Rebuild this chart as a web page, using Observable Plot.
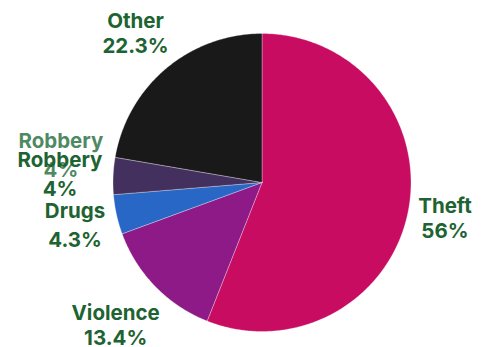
<!DOCTYPE html>
<html><head><meta charset="utf-8">
<script src="https://cdn.jsdelivr.net/npm/d3@7"></script>
<script src="https://cdn.jsdelivr.net/npm/@observablehq/plot@0.6"></script>
<style>body{margin:0;background:#fff;} #chart svg{display:block;}</style>
</head><body><div id="chart"></div>
<script>
// Data
const categories = ["Theft", "Violence", "Drugs", "Robbery", "Other"];
const shares = [56, 13.4, 4.3, 4, 22.3];
const valueLabels = ["56%", "13.4%", "4.3%", "4%", "22.3%"];
const colors = ["#c70c62", "#8d1a86", "#2867c5", "#44305e", "#191919"];

// Label nudges (data units, relative to mid-angle anchor)
const nudge = {
  Theft: [0, 0],
  Violence: [-0.087, -0.078],
  Drugs: [-0.034, -0.003],
  Robbery: [-0.107, 0.012],
  Other: [-0.043, 0.052]
};
const ghostNudge = [-0.101, 0.140];
const narrowSlices = ["Drugs", "Robbery"];

const arcs = d3.pie().sort(null).value(d => d)(shares);
const polys = [];
arcs.forEach((p, i) => {
  polys.push({cat: categories[i], x: 0, y: 0});
  const n = Math.max(2, Math.ceil((p.endAngle - p.startAngle) / (Math.PI / 360)));
  for (let k = 0; k <= n; k++) {
    const a = p.startAngle + (p.endAngle - p.startAngle) * k / n;
    polys.push({cat: categories[i], x: Math.sin(a), y: Math.cos(a)});
  }
  polys.push({cat: categories[i], x: 0, y: 0});
});

const R = 1.25;
const labels = arcs.map((p, i) => {
  const m = (p.startAngle + p.endAngle) / 2;
  const c = categories[i];
  return {cat: c, text: c + "\n" + valueLabels[i],
    x: R * Math.sin(m) + nudge[c][0], y: R * Math.cos(m) + nudge[c][1]};
});
const rob = labels.find(d => d.cat === "Robbery");
const ghost = [{text: rob.text, x: rob.x - nudge.Robbery[0] + ghostNudge[0], y: rob.y - nudge.Robbery[1] + ghostNudge[1]}];
const wideLabels = labels.filter(d => !narrowSlices.includes(d.cat));
const narrowLabels = labels.filter(d => narrowSlices.includes(d.cat));

const textStyle = {fontSize: 20.5, fontWeight: 700, fontFamily: "Inter, 'Open Sans', sans-serif", textAnchor: "middle"};

const chart = Plot.plot({
  width: 482, height: 347,
  margin: 0,
  x: {domain: [-1, 1], range: [112.5, 410.5], axis: null},
  y: {domain: [-1, 1], range: [331, 33], axis: null},
  color: {domain: categories, range: colors},
  style: {background: "white"},
  marks: [
    Plot.line(polys, {x: "x", y: "y", z: "cat", fill: "cat", stroke: "white", strokeWidth: 0.6, strokeOpacity: 0.5, curve: "linear"}),
    Plot.text(ghost, {x: "x", y: "y", text: "text", fill: "#2f7446", fillOpacity: 0.85, lineHeight: 1.38, ...textStyle}),
    Plot.text(wideLabels, {x: "x", y: "y", text: "text", fill: "#1e6332", lineHeight: 1.22, ...textStyle}),
    Plot.text(narrowLabels, {x: "x", y: "y", text: "text", fill: "#1e6332", lineHeight: 1.42, ...textStyle})
  ]
});
document.getElementById("chart").appendChild(chart);
</script>
</body></html>
